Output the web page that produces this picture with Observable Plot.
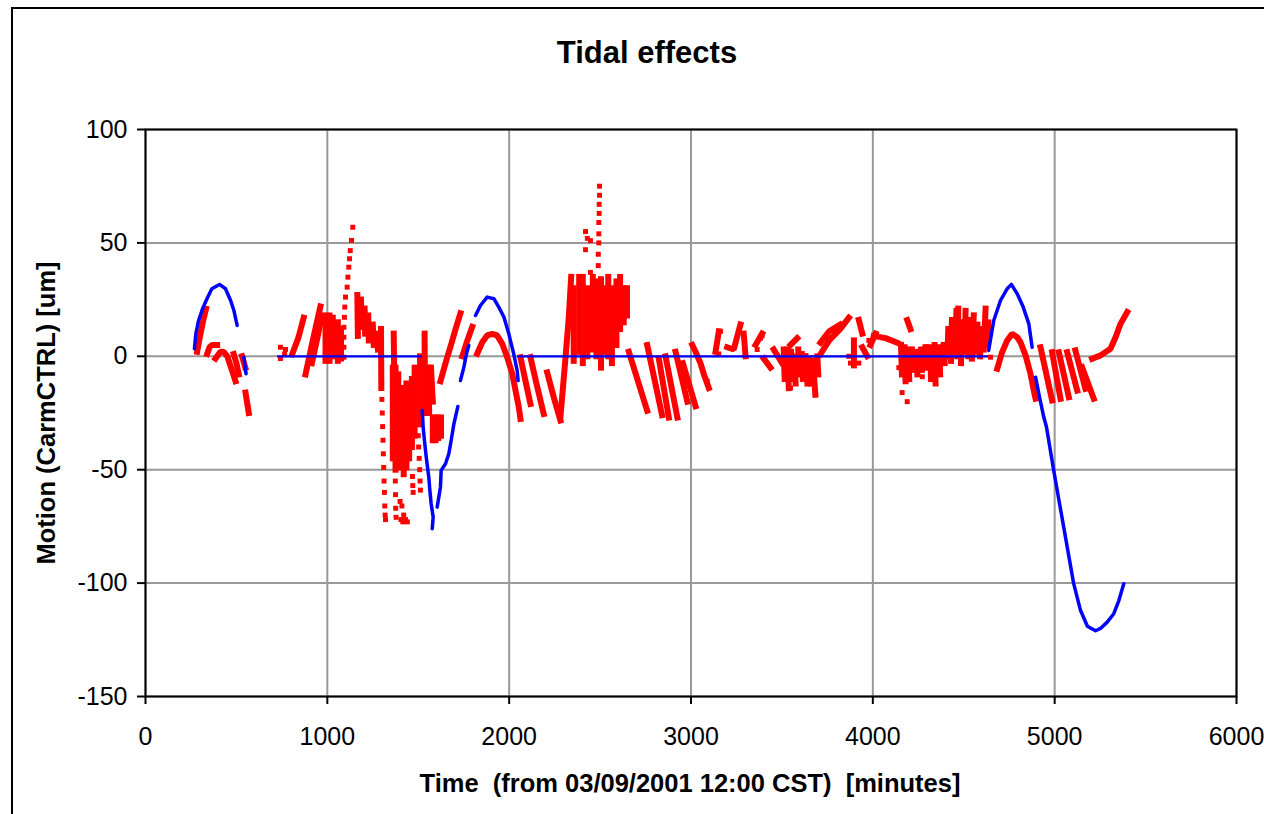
<!DOCTYPE html>
<html>
<head>
<meta charset="utf-8">
<script src="https://cdn.jsdelivr.net/npm/d3@7"></script>
<script src="https://cdn.jsdelivr.net/npm/@observablehq/plot@0.6"></script>
<style>
html,body{margin:0;padding:0;background:#fff;overflow:hidden;}
#wrap{position:relative;width:1264px;height:814px;overflow:hidden;font-family:"Liberation Sans",Arial,sans-serif;color:#000;}
#frame{position:absolute;left:11px;top:7px;width:1400px;height:1000px;border:2.5px solid #000;box-sizing:border-box;}
#title{position:absolute;left:0;width:1294px;top:38px;line-height:30px;text-align:center;font-weight:bold;font-size:31px;}
#xlabel{position:absolute;left:0;width:1380px;top:770px;line-height:26px;text-align:center;font-weight:bold;font-size:25.5px;white-space:pre;}
#ylabel{position:absolute;left:46px;top:413px;width:500px;line-height:26px;text-align:center;font-weight:bold;font-size:25.5px;white-space:pre;transform:translate(-50%,-50%) rotate(-90deg);}
#chart{position:absolute;left:0;top:0;}
</style>
</head>
<body>
<div id="wrap">
  <div id="frame"></div>
  <div id="chart"></div>
  <div id="title">Tidal effects</div>
  <div id="xlabel">Time  (from 03/09/2001 12:00 CST)  [minutes]</div>
  <div id="ylabel">Motion (CarmCTRL) [um]</div>
</div>
<script>
// ---- tick values ----
const xTicks = [0, 1000, 2000, 3000, 4000, 5000, 6000];
const yTicks = [-150, -100, -50, 0, 50, 100];

// ---- blue series (tidal model) ----
const blueArcs = [
  [[269,3.3],[277,10],[292,15.8],[314,21],[338,25.4],[365,29.8],[407,31.7],[440,29.8],[468,24.6],[486,20.2],[504,13.6]],
  [[541,-0.4],[547,-4],[553,-7.7]],
  [[1522,-23.9],[1527,-31.2],[1534,-37.1],[1544,-44.5],[1558,-53.3],[1564,-59.2],[1571,-65],[1582,-70.9],[1577,-76]],
  [[1604,-66.5],[1622,-57.7],[1626,-50.3],[1650,-47.4],[1668,-43],[1681,-37.1],[1696,-29.8],[1718,-22.1]],
  [[1732,-10.7],[1751,-4.8],[1765,1.1],[1778,4.8]],
  [[1815,18],[1842,22.4],[1879,26.1],[1916,25.4],[1943,21.7],[1971,17.3],[1998,9.9],[2025,1.1],[2044,-6.3],[2049,-10.7]],
  [[4637,2.6],[4665,15.8],[4702,24.6],[4739,29.8],[4762,31.7],[4794,27.6],[4827,21.7],[4858,14.3],[4876,4]],
  [[4895,-9.2],[4913,-16.5],[4940,-26.8],[4955,-31.2],[4994,-50],[5049,-75],[5104,-100],[5142,-112],[5180,-119],[5225,-121],[5252,-120],[5289,-117.2],[5325,-113.5],[5353,-107.7],[5380,-100.3]]
];
const blueZeroStart = [726, 2046];
const blueZeroEnd = [1523, 4636];

// ---- red series (measured motion), streaks of dense markers ----
const redStreaks = [
  [[284,2],[300,9],[318,16],[333,21]],
  [[339,1],[352,4],[366,5],[394,5]],
  [[385,-1],[412,2],[430,2],[449,0]],
  [[458,-2],[475,-6],[495,-11]],
  [[485,1],[500,-3],[513,-8]],
  [[531,0],[549,-5]],
  [[550,-16],[560,-21],[568,-25]],
  [[807,1],[840,8],[870,17]],
  [[880,-8],[920,7],[962,22]],
  [[915,-3],[945,8],[970,18]],
  [[990,18],[990,-2]],
  [[1012,18],[1012,-2]],
  [[1030,17],[1030,0]],
  [[1058,15],[1058,-2]],
  [[1075,12],[1075,-1]],
  [[1165,27],[1168,9]],
  [[1185,25],[1188,13]],
  [[1205,21],[1208,10]],
  [[1225,18],[1228,7]],
  [[1250,14],[1255,5]],
  [[1272,10],[1278,3]],
  [[1295,12],[1297,-14]],
  [[1365,10],[1370,-22]],
  [[1360,-5],[1360,-45]],
  [[1375,-5],[1375,-50]],
  [[1390,-8],[1390,-48]],
  [[1405,-14],[1405,-49]],
  [[1420,-14],[1420,-52]],
  [[1435,-12],[1435,-49]],
  [[1450,-14],[1450,-45]],
  [[1465,-10],[1465,-40]],
  [[1480,-5],[1480,-35]],
  [[1510,0],[1510,-30]],
  [[1535,10],[1537,-25]],
  [[1555,-5],[1560,-25]],
  [[1570,-5],[1580,-20]],
  [[1580,-27],[1580,-37]],
  [[1595,-27],[1595,-37]],
  [[1610,-27],[1610,-36]],
  [[1625,-27],[1625,-35]],
  [[1622,-11],[1650,-3],[1680,5],[1705,12],[1732,19]],
  [[1742,0],[1770,7],[1797,13]],
  [[1824,1.1],[1852,6.2],[1879,9.2],[1907,9.9],[1934,9.2],[1962,5.5],[1989,-0.4],[2017,-7.7],[2035,-15.1],[2053,-22.4],[2062,-27.6]],
  [[2062,-0.4],[2090,-11],[2117,-21]],
  [[2117,-0.4],[2150,-12],[2190,-25.4]],
  [[2209,-7.1],[2245,-18],[2282,-28.3]],
  [[2282,-26.8],[2310,-0.4],[2328,17.3],[2341,35]],
  [[2355,-2],[2355,30]],
  [[2385,2],[2385,35]],
  [[2405,-3],[2405,35]],
  [[2430,0],[2430,30]],
  [[2460,3],[2460,35]],
  [[2480,0],[2480,33]],
  [[2505,-5],[2505,34]],
  [[2525,2],[2525,30]],
  [[2545,0],[2545,35]],
  [[2565,-3],[2565,30]],
  [[2590,5],[2590,33]],
  [[2610,12],[2610,35]],
  [[2630,15],[2630,30]],
  [[2648,18],[2648,30]],
  [[2658,2],[2759,-24]],
  [[2759,5],[2841,-26]],
  [[2823,-1],[2878,-27]],
  [[2860,0],[2925,-27]],
  [[2915,2],[2980,-20]],
  [[2955,-3],[3025,-22]],
  [[3007,5],[3025,2],[3052,-3],[3071,-8],[3098,-14]],
  [[3135,2],[3153,11]],
  [[3199,4],[3235,3],[3272,14]],
  [[3290,10],[3300,0]],
  [[3355,5],[3391,10]],
  [[3400,-1],[3437,-5]],
  [[3455,3],[3501,-3]],
  [[3547,5],[3584,8]],
  [[3510,3],[3515,-10]],
  [[3530,3],[3538,-14]],
  [[3550,2],[3555,-10]],
  [[3570,0],[3575,-12]],
  [[3590,3],[3595,-8]],
  [[3610,1],[3615,-10]],
  [[3630,0],[3640,-12]],
  [[3650,-1],[3660,-12]],
  [[3670,-2],[3684,-17]],
  [[3695,0],[3700,-8]],
  [[3712,1],[3760,7],[3820,12],[3868,17]],
  [[3712,6],[3760,11],[3820,14]],
  [[3896,7],[3896,-4]],
  [[3923,16],[3942,10]],
  [[3942,4],[3969,0]],
  [[3987,5],[4015,10]],
  [[4005,9],[4070,8],[4133,6]],
  [[4189,16],[4207,12]],
  [[4155,5],[4160,-8]],
  [[4175,4],[4180,-11]],
  [[4195,3],[4200,-10]],
  [[4215,3],[4220,-6]],
  [[4240,2],[4245,-8]],
  [[4265,3],[4270,-6]],
  [[4290,4],[4295,-5]],
  [[4315,4],[4320,-10]],
  [[4340,5],[4345,-12]],
  [[4365,4],[4370,-8]],
  [[4390,5],[4395,-3]],
  [[4410,0],[4415,12]],
  [[4430,-2],[4435,16]],
  [[4450,2],[4460,20]],
  [[4465,0],[4470,21]],
  [[4485,-3],[4490,15]],
  [[4505,2],[4510,20]],
  [[4525,0],[4530,16]],
  [[4545,-1],[4555,18]],
  [[4570,2],[4575,14]],
  [[4590,0],[4595,12]],
  [[4610,3],[4620,21]],
  [[4630,5],[4635,15]],
  [[4684,-5.5],[4711,1.8],[4739,7],[4766,9.9],[4794,8.4],[4812,6.2],[4840,0.4],[4867,-7.7],[4885,-15.1],[4895,-18.7]],
  [[4922,4],[4986,-19.5]],
  [[4986,1.8],[5032,-18.7]],
  [[5023,1.8],[5078,-18]],
  [[5069,1.8],[5124,-15.1]],
  [[5114,2.6],[5169,-14.3]],
  [[5151,-4.8],[5215,-18.7]],
  [[5206,-1.1],[5252,0.4],[5307,3.3],[5335,8.4],[5362,14.3],[5399,19.5]]
];

// ---- red isolated markers ----
const redDots = [
  [742,4],[742,-1],[765,1],[770,3],
  [1091,-0.4],[1091,4],[1091,8.4],[1091,12.8],[1094,17.2],[1096,21.7],[1100,26.1],[1109,30.5],[1113,34.9],[1118,39.3],[1122,43],[1126,46.6],[1133,51.1],[1140,56.9],
  [1300,-19],[1302,-25],[1304,-31],[1306,-37],[1308,-43],[1310,-49],[1312,-55],[1314,-60],[1316,-66],[1318,-70],[1320,-72],
  [1372,-27],[1372,-33],[1374,-55],[1375,-61],[1376,-67],[1378,-71],
  [1400,-64],[1410,-66],[1420,-70],[1430,-72],[1440,-73],[1405,-72],[1415,-73],
  [1500,-35],[1502,-40],[1505,-45],[1508,-50],[1510,-55],[1512,-59],
  [1468,-53],[1470,-57],[1472,-60],
  [2497,75],[2497,71],[2495,67],[2495,63],[2493,59],[2493,54],[2493,50],[2490,45],[2490,40],
  [2420,55],[2420,47],[2447,51],[2447,37],[2430,52],
  [3162,11],[3364,3],[3382,8],[3391,9],[3520,-9],[3547,-14],[3620,0],[3657,-6],[3684,-16],
  [3868,0],[3923,-3],[3877,-3],[3978,7],[4143,-5],[3089,-11],[3153,1],
  [4161,-16],[4189,-20],[4272,-9],[4647,-0.4]
];

const streakRows = redStreaks.flatMap((s, i) => s.map(([x, y]) => ({x, y, id: i})));
const dotRows = redDots.map(([x, y]) => ({x, y}));
const arcRows = blueArcs.flatMap((s, i) => s.map(([x, y]) => ({x, y, id: i})));
const zeroRows = blueZeroStart.map((x1, i) => ({x1, x2: blueZeroEnd[i], y: 0}));
const fmt = d => String(d);

const chart = Plot.plot({
  width: 1264,
  height: 814,
  marginLeft: 145,
  marginRight: 28,
  marginTop: 129,
  marginBottom: 118,
  style: {fontFamily: '"Liberation Sans", Arial, sans-serif', fontSize: "25px", color: "#000", background: "transparent", overflow: "visible"},
  x: {domain: [0, 6000]},
  y: {domain: [-150, 100]},
  marks: [
    Plot.gridX(xTicks, {stroke: "#999", strokeOpacity: 1, strokeWidth: 2}),
    Plot.gridY(yTicks, {stroke: "#999", strokeOpacity: 1, strokeWidth: 2}),
    Plot.line(streakRows, {x: "x", y: "y", z: "id", stroke: "#ff0000", strokeWidth: 6, strokeLinecap: "square", strokeLinejoin: "miter"}),
    Plot.dot(dotRows, {x: "x", y: "y", symbol: "square", r: 2.8, fill: "#ff0000", stroke: "none"}),
    Plot.ruleY(zeroRows, {x1: "x1", x2: "x2", y: "y", stroke: "#0000ff", strokeWidth: 2.2}),
    Plot.line(arcRows, {x: "x", y: "y", z: "id", stroke: "#0000ff", strokeWidth: 3.5}),
    Plot.frame({stroke: "#000", strokeWidth: 2}),
    Plot.axisX(xTicks, {tickSize: 8, tickPadding: 23, tickFormat: fmt, label: null, strokeWidth: 2}),
    Plot.axisY(yTicks, {tickSize: 8, tickPadding: 10, tickFormat: fmt, label: null, strokeWidth: 2})
  ]
});
document.getElementById("chart").appendChild(chart);
</script>
</body>
</html>
